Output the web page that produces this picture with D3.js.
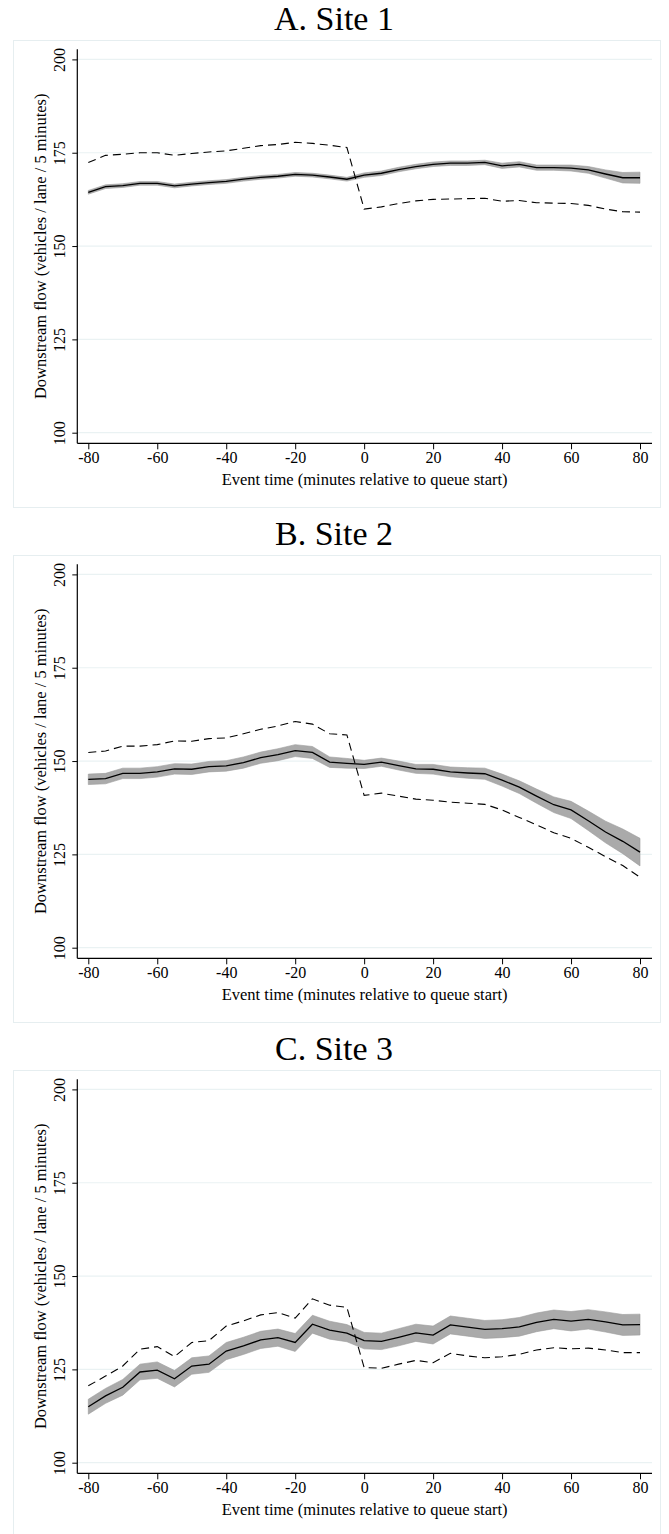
<!DOCTYPE html>
<html>
<head>
<meta charset="utf-8">
<script src="https://cdn.jsdelivr.net/npm/d3@7"></script>
<style>
  body { margin: 0; background: #fff; }
  svg { display: block; }
  text { font-family: "Liberation Serif", "Times New Roman", serif; fill: #000; }
</style>
</head>
<body>
<div id="chart"></div>
<script>
var width = 669;
var height = 1534;

// event time, minutes relative to queue start
var times = [-80, -75, -70, -65, -60, -55, -50, -45, -40, -35, -30, -25, -20, -15, -10, -5,
             0, 5, 10, 15, 20, 25, 30, 35, 40, 45, 50, 55, 60, 65, 70, 75, 80];

var xTicks = [-80, -60, -40, -20, 0, 20, 40, 60, 80];
var yTicks = [100, 125, 150, 175, 200];

var panelTitles = ["A. Site 1", "B. Site 2", "C. Site 3"];

// Site 1
var site1Flow = [164.4, 165.9, 166.2, 166.8, 166.8, 166.1, 166.6, 167.0, 167.3, 167.9, 168.4, 168.7, 169.2, 169.0, 168.5, 167.9,
                 169.0, 169.5, 170.5, 171.3, 171.9, 172.2, 172.2, 172.4, 171.5, 171.9, 171.0, 171.0, 170.9, 170.4, 169.3, 168.3, 168.3];
var site1Ci   = [0.5, 0.5, 0.5, 0.5, 0.5, 0.5, 0.5, 0.5, 0.5, 0.5, 0.5, 0.5, 0.5, 0.5, 0.5, 0.5,
                 0.6, 0.6, 0.6, 0.6, 0.6, 0.6, 0.6, 0.6, 0.7, 0.7, 0.7, 0.7, 0.8, 0.9, 1.1, 1.4, 1.5];
var site1Base = [172.4, 174.3, 174.6, 175.0, 175.0, 174.3, 174.8, 175.2, 175.5, 176.2, 176.9, 177.2, 177.8, 177.5, 177.0, 176.4,
                 159.9, 160.5, 161.4, 162.1, 162.5, 162.6, 162.7, 162.8, 162.0, 162.2, 161.6, 161.5, 161.4, 160.9, 159.9, 159.2, 159.1];

// Site 2
var site2Flow = [145.1, 145.3, 146.7, 146.7, 147.1, 147.9, 147.8, 148.5, 148.7, 149.6, 150.9, 151.7, 152.8, 152.3, 149.7, 149.4,
                 149.1, 149.7, 148.8, 147.9, 147.8, 147.1, 146.8, 146.6, 144.9, 143.0, 140.6, 138.3, 136.9, 134.0, 131.0, 128.5, 125.6];
var site2Ci   = [1.4, 1.4, 1.4, 1.4, 1.4, 1.4, 1.4, 1.4, 1.4, 1.5, 1.5, 1.6, 1.6, 1.6, 1.4, 1.3,
                 1.1, 1.1, 1.2, 1.2, 1.3, 1.3, 1.4, 1.5, 1.6, 1.7, 1.9, 2.1, 2.3, 2.6, 2.9, 3.3, 3.7];
var site2Base = [152.3, 152.7, 154.0, 154.0, 154.4, 155.4, 155.3, 156.0, 156.2, 157.3, 158.5, 159.4, 160.6, 159.9, 157.3, 157.0,
                 140.8, 141.4, 140.6, 139.8, 139.5, 139.0, 138.7, 138.4, 136.9, 134.9, 132.9, 130.8, 129.3, 126.9, 124.4, 122.0, 118.9];

// Site 3
var site3Flow = [115.0, 117.9, 120.2, 124.3, 124.8, 122.5, 125.9, 126.4, 129.9, 131.3, 132.9, 133.5, 132.2, 137.1, 135.5, 134.7,
                 132.7, 132.5, 133.6, 134.8, 134.2, 136.9, 136.3, 135.7, 135.9, 136.4, 137.6, 138.4, 137.9, 138.4, 137.7, 136.9, 137.0];
var site3Ci   = [2.0, 2.0, 2.1, 2.1, 2.2, 2.2, 2.2, 2.2, 2.3, 2.3, 2.3, 2.3, 2.4, 2.4, 2.4, 2.3,
                 2.2, 2.2, 2.3, 2.3, 2.4, 2.4, 2.4, 2.4, 2.4, 2.5, 2.5, 2.5, 2.6, 2.6, 2.7, 2.8, 2.8];
var site3Base = [120.6, 123.2, 125.9, 130.4, 131.1, 128.4, 132.2, 132.7, 136.6, 138.0, 139.6, 140.2, 138.7, 143.9, 142.2, 141.6,
                 125.5, 125.3, 126.4, 127.4, 126.8, 129.3, 128.6, 128.1, 128.4, 129.0, 130.2, 130.8, 130.5, 130.7, 130.2, 129.5, 129.5];

var panels = [
  {title: panelTitles[0], flow: site1Flow, ci: site1Ci, base: site1Base},
  {title: panelTitles[1], flow: site2Flow, ci: site2Ci, base: site2Base},
  {title: panelTitles[2], flow: site3Flow, ci: site3Ci, base: site3Base}
];

var svg = d3.select("#chart").append("svg")
  .attr("width", width)
  .attr("height", height);

var panelStep = 515;

// scales (stata style plot region: padding around the data range)
var x = d3.scaleLinear().domain([-80, 80]).range([88.3, 640]);
var y = d3.scaleLinear().domain([100, 200]).range([432.7, 59.4]);
var xLeft = 77.3, xRight = 652, yTop = 49.3, yBottom = 443.3;

var area = d3.area()
  .x(function(d) { return x(d.t); })
  .y0(function(d) { return y(d.v - d.ci); })
  .y1(function(d) { return y(d.v + d.ci); });

var line = d3.line()
  .x(function(d) { return x(d.t); })
  .y(function(d) { return y(d.v); });

panels.forEach(function(p, i) {
  var g = svg.append("g").attr("transform", "translate(0," + (i * panelStep) + ")");

  var rows = times.map(function(t, k) {
    return {t: t, v: p.flow[k], ci: p.ci[k], b: p.base[k]};
  });

  // title
  g.append("text")
    .attr("x", 334)
    .attr("y", 30)
    .attr("text-anchor", "middle")
    .style("font-size", "34px")
    .style("font-weight", "normal")
    .text(p.title);

  // outer graph box
  g.append("rect")
    .attr("x", 13.5).attr("y", 40.5)
    .attr("width", 647).attr("height", 467)
    .attr("fill", "none")
    .attr("stroke", "#e6eef0")
    .attr("stroke-width", 1);

  // gridlines
  g.selectAll(".grid")
    .data(yTicks)
    .enter().append("line")
    .attr("x1", xLeft).attr("x2", xRight)
    .attr("y1", function(d) { return y(d); })
    .attr("y2", function(d) { return y(d); })
    .attr("stroke", "#eaf2f3")
    .attr("stroke-width", 1.2);

  // confidence band
  g.append("path")
    .datum(rows)
    .attr("d", area)
    .attr("fill", "#aaaaaa")
    .attr("stroke", "#9c9c9c")
    .attr("stroke-width", 0.6);

  // dashed series
  g.append("path")
    .datum(rows.map(function(r) { return {t: r.t, v: r.b}; }))
    .attr("d", line)
    .attr("fill", "none")
    .attr("stroke", "#000")
    .attr("stroke-width", 1.1)
    .attr("stroke-dasharray", "8,5");

  // main series
  g.append("path")
    .datum(rows)
    .attr("d", line)
    .attr("fill", "none")
    .attr("stroke", "#000")
    .attr("stroke-width", 1.3);

  // x axis
  var xAxis = g.append("g")
    .attr("transform", "translate(0," + yBottom + ")")
    .call(d3.axisBottom(x).tickValues(xTicks).tickSize(6).tickPadding(2).tickFormat(d3.format("d")));
  xAxis.select(".domain").remove();
  xAxis.selectAll("line").attr("stroke", "#000").attr("stroke-width", 1);
  xAxis.selectAll("text")
    .style("font-family", "Liberation Serif, serif")
    .style("font-size", "16px")
    .text(function(d) { return d < 0 ? "-" + Math.abs(d) : d; });

  // y axis
  var yAxis = g.append("g")
    .attr("transform", "translate(" + xLeft + ",0)")
    .call(d3.axisLeft(y).tickValues(yTicks).tickSize(5).tickFormat(d3.format("d")));
  yAxis.select(".domain").remove();
  yAxis.selectAll("line").attr("stroke", "#000").attr("stroke-width", 1);
  yAxis.selectAll("text")
    .attr("x", null).attr("dy", null)
    .attr("transform", "translate(-12,0) rotate(-90)")
    .attr("text-anchor", "middle")
    .style("font-family", "Liberation Serif, serif")
    .style("font-size", "16px");

  // axis lines
  g.append("line")
    .attr("x1", xLeft).attr("x2", xRight)
    .attr("y1", yBottom).attr("y2", yBottom)
    .attr("stroke", "#000").attr("stroke-width", 1.2);
  g.append("line")
    .attr("x1", xLeft).attr("x2", xLeft)
    .attr("y1", yTop).attr("y2", yBottom)
    .attr("stroke", "#000").attr("stroke-width", 1.2);

  // axis titles
  g.append("text")
    .attr("x", (xLeft + xRight) / 2)
    .attr("y", 485)
    .attr("text-anchor", "middle")
    .style("font-size", "16.5px")
    .text("Event time (minutes relative to queue start)");

  g.append("text")
    .attr("transform", "translate(46," + ((yTop + yBottom) / 2) + ") rotate(-90)")
    .attr("text-anchor", "middle")
    .style("font-size", "16.5px")
    .text("Downstream flow (vehicles / lane / 5 minutes)");
});
</script>
</body>
</html>
